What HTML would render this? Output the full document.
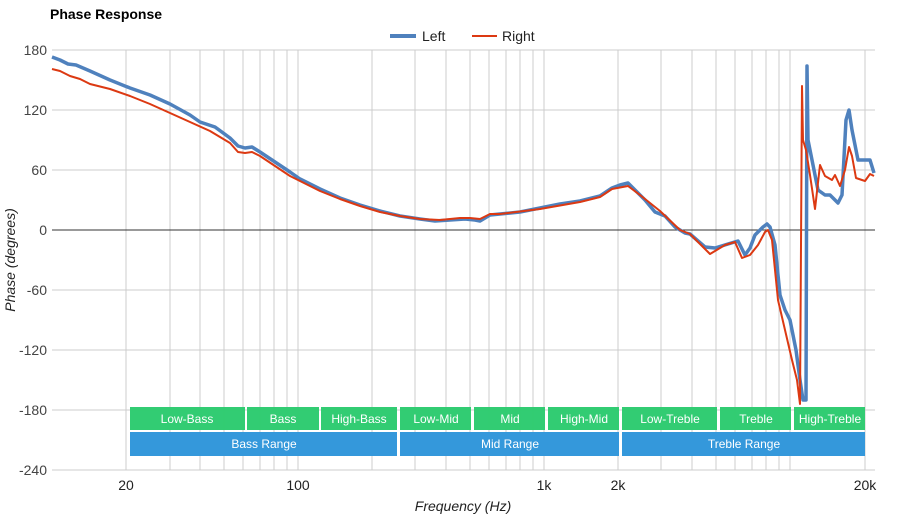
<!DOCTYPE html>
<html><head><meta charset="utf-8"><style>body{margin:0;background:#fff}svg{display:block;font-family:"Liberation Sans",Arial,sans-serif}</style></head><body>
<svg width="900" height="520" xmlns="http://www.w3.org/2000/svg">
<text x="50" y="19" font-size="14" font-weight="bold" fill="#000">Phase Response</text>
<line x1="390" y1="36" x2="416" y2="36" stroke="#4f81bd" stroke-width="4"/>
<text x="422" y="41" font-size="14" fill="#222">Left</text>
<line x1="472" y1="36" x2="497" y2="36" stroke="#dc3912" stroke-width="2"/>
<text x="502" y="41" font-size="14" fill="#222">Right</text>
<g stroke="#cccccc" stroke-width="1">
<line x1="52" y1="50" x2="875" y2="50"/><line x1="52" y1="110" x2="875" y2="110"/><line x1="52" y1="170" x2="875" y2="170"/>
<line x1="52" y1="290" x2="875" y2="290"/><line x1="52" y1="350" x2="875" y2="350"/><line x1="52" y1="410" x2="875" y2="410"/><line x1="52" y1="470" x2="875" y2="470"/>
<g id="v">
<line x1="126" y1="50" x2="126" y2="470"/><line x1="170" y1="50" x2="170" y2="470"/><line x1="200" y1="50" x2="200" y2="470"/><line x1="224" y1="50" x2="224" y2="470"/><line x1="243" y1="50" x2="243" y2="470"/><line x1="260" y1="50" x2="260" y2="470"/><line x1="274" y1="50" x2="274" y2="470"/><line x1="287" y1="50" x2="287" y2="470"/><line x1="298" y1="50" x2="298" y2="470"/>
<line x1="372" y1="50" x2="372" y2="470"/><line x1="415" y1="50" x2="415" y2="470"/><line x1="446" y1="50" x2="446" y2="470"/><line x1="470" y1="50" x2="470" y2="470"/><line x1="489" y1="50" x2="489" y2="470"/><line x1="506" y1="50" x2="506" y2="470"/><line x1="520" y1="50" x2="520" y2="470"/><line x1="533" y1="50" x2="533" y2="470"/><line x1="544" y1="50" x2="544" y2="470"/>
<line x1="618" y1="50" x2="618" y2="470"/><line x1="661" y1="50" x2="661" y2="470"/><line x1="692" y1="50" x2="692" y2="470"/><line x1="716" y1="50" x2="716" y2="470"/><line x1="735" y1="50" x2="735" y2="470"/><line x1="752" y1="50" x2="752" y2="470"/><line x1="766" y1="50" x2="766" y2="470"/><line x1="779" y1="50" x2="779" y2="470"/><line x1="790" y1="50" x2="790" y2="470"/><line x1="865" y1="50" x2="865" y2="470"/>
</g></g>
<line x1="52" y1="230" x2="875" y2="230" stroke="#333" stroke-width="1"/>
<g font-size="14" fill="#444" text-anchor="end">
<text x="47" y="55">180</text><text x="47" y="115">120</text><text x="47" y="175">60</text><text x="47" y="235">0</text><text x="47" y="295">-60</text><text x="47" y="355">-120</text><text x="47" y="415">-180</text><text x="47" y="475">-240</text></g>
<g font-size="14" fill="#222" text-anchor="middle">
<text x="126" y="490">20</text><text x="298" y="490">100</text><text x="544" y="490">1k</text><text x="618" y="490">2k</text><text x="865" y="490">20k</text></g>
<text x="463" y="511" font-size="14" font-style="italic" fill="#222" text-anchor="middle">Frequency (Hz)</text>
<text transform="translate(15,260) rotate(-90)" font-size="14" font-style="italic" fill="#222" text-anchor="middle">Phase (degrees)</text>
<g fill="#2ecc71" opacity="0.98">
<rect x="130" y="407" width="115" height="23"/><rect x="247" y="407" width="72" height="23"/><rect x="321" y="407" width="76" height="23"/><rect x="400" y="407" width="71" height="23"/><rect x="474" y="407" width="71" height="23"/><rect x="548" y="407" width="71" height="23"/><rect x="622" y="407" width="95" height="23"/><rect x="720" y="407" width="71" height="23"/><rect x="794" y="407" width="71" height="23"/></g>
<g fill="#3498db"><rect x="130" y="432" width="267" height="24"/><rect x="400" y="432" width="219" height="24"/><rect x="622" y="432" width="243" height="24"/></g>
<g font-size="12" fill="#fff" text-anchor="middle">
<text x="187" y="423">Low-Bass</text><text x="283" y="423">Bass</text><text x="359" y="423">High-Bass</text><text x="436" y="423">Low-Mid</text><text x="510" y="423">Mid</text><text x="584" y="423">High-Mid</text><text x="670" y="423">Low-Treble</text><text x="756" y="423">Treble</text><text x="830" y="423">High-Treble</text>
<text x="264" y="448">Bass Range</text><text x="510" y="448">Mid Range</text><text x="744" y="448">Treble Range</text></g>
<polyline fill="none" stroke="#4f81bd" stroke-width="3.5" stroke-linejoin="round" points="52,57 60,60 68,64 76,65 90,71 110,80 130,88 150,95 170,104 190,115 200,122 215,127 230,138 238,146 245,148 252,147 260,152 275,162 290,172 300,179 320,189 340,198 360,205 380,211 400,216 420,219 435,221 450,220 465,219 475,220 480,221 490,215 500,214 520,212 540,208 560,204 580,201 600,196 612,188 620,185 628,183 635,190 645,200 655,212 665,216 675,227 685,233 690,234 705,247 715,248 728,244 738,241 745,255 750,248 755,235 763,227 767,224 770,227 775,245 780,295 785,310 790,320 796,350 800,380 803,400 806,400 807,66 808,140 812,160 818,190 825,195 830,195 838,203 842,195 846,120 849,110 852,130 858,160 865,160 870,160 874,173"/>
<polyline fill="none" stroke="#dc3912" stroke-width="2" stroke-linejoin="round" points="52,69 60,71 70,76 80,79 90,84 110,89 130,96 150,104 170,113 190,122 210,131 230,143 238,152 245,153 252,152 260,156 275,166 290,176 300,181 320,191 340,199 360,206 380,212 400,216 420,219 440,220 460,218 470,218 480,219 490,214 500,214 540,209 580,202 600,197 612,189 628,186 640,195 660,211 680,230 690,234 710,254 725,245 735,242 742,258 750,255 758,245 765,232 768,230 772,240 778,300 785,330 792,360 797,380 800,404 802,86 803,140 806,150 810,175 815,209 820,165 825,176 832,180 835,175 840,186 845,170 849,147 852,156 856,178 865,181 870,174 874,176"/>
</svg>
</body></html>
